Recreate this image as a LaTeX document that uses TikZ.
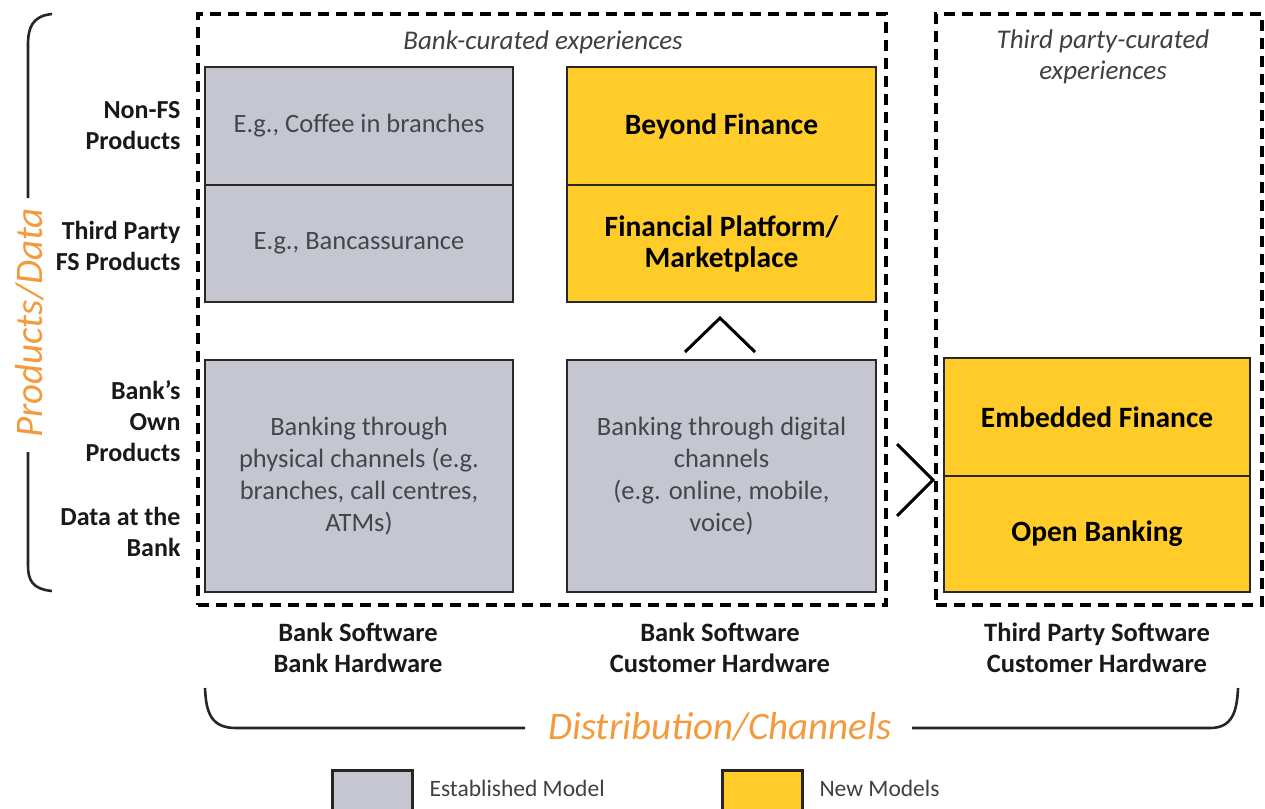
\documentclass[tikz,border=0pt]{standalone}
\usepackage{fontspec}
\setmainfont{Carlito}
\definecolor{grayfill}{RGB}{197,198,208}
\definecolor{yellowfill}{RGB}{255,204,41}
\definecolor{orangetxt}{RGB}{243,155,60}
\definecolor{boxtxt}{RGB}{68,70,76}
\definecolor{edge}{RGB}{40,40,40}
\begin{document}
\begin{tikzpicture}[x=1pt,y=-1pt,
  cell/.style={draw=edge,line width=1.6pt,inner sep=0pt,align=center,text=boxtxt,
    font=\fontsize{26.5}{32}\selectfont},
  graycell/.style={cell,fill=grayfill},
  yellowcell/.style={cell,fill=yellowfill,text=black,font=\bfseries\fontsize{29.5}{31}\selectfont},
  dashbox/.style={draw=black,dashed,dash pattern=on 11pt off 7pt,line width=3.2pt,inner sep=0pt},
  sidelabel/.style={align=right,anchor=east,font=\bfseries\fontsize{26}{31}\selectfont,text=black!90},
  botlabel/.style={align=center,font=\bfseries\fontsize{26.5}{31}\selectfont,text=black!90},
  toplabel/.style={align=center,font=\itshape\fontsize{27}{31}\selectfont,text=black!75},
  bigorange/.style={font=\itshape\fontsize{39}{40}\selectfont,text=orangetxt},
  bracepath/.style={draw=black!85,line width=2.6pt},
  chevron/.style={draw=black,line width=3pt},
  legbox/.style={draw=black!85,line width=3pt,inner sep=0pt,minimum width=80pt,minimum height=42pt},
  legtext/.style={anchor=west,font=\fontsize{23.5}{24}\selectfont,text=black!75}
]
\useasboundingbox (0,0) rectangle (1265,808);

% dashed regions
\node[dashbox,minimum width=688pt,minimum height=591pt] (bankexp) at (542,309.5) {};
\node[dashbox,minimum width=326pt,minimum height=591pt] (tpexp) at (1099,309.5) {};

\node[toplabel] (banklbl) at (543,42) {Bank-curated experiences};
\node[toplabel] (tplbl) at (1103,57) {Third party-curated\\experiences};

% gray cells
\node[graycell,minimum width=308pt,minimum height=118pt] (nonfs) at (359,126) {E.g., Coffee in branches};
\node[graycell,minimum width=308pt,minimum height=117pt] (tpfs) at (359,243.5) {E.g., Bancassurance};
\node[graycell,minimum width=308pt,minimum height=232pt] (phys) at (359,476) {Banking through\\physical channels (e.g.\\branches, call centres,\\ATMs)};
\node[graycell,minimum width=309pt,minimum height=232pt] (dig) at (721.5,476) {Banking through digital\\channels\\(e.g. online, mobile,\\voice)};

% yellow cells
\node[yellowcell,minimum width=309pt,minimum height=118pt] (beyond) at (721.5,126) {Beyond Finance};
\node[yellowcell,minimum width=309pt,minimum height=117pt] (market) at (721.5,243.5) {Financial Platform/\\Marketplace};
\node[yellowcell,minimum width=306pt,minimum height=118pt] (embed) at (1097,417) {Embedded Finance};
\node[yellowcell,minimum width=306pt,minimum height=116pt] (openb) at (1097,534) {Open Banking};

% chevrons
\draw[chevron] (685,352) -- (720,318) -- (755,352);
\draw[chevron] (897,444) -- (933,480) -- (897,516);

% side labels
\node[sidelabel] (l1) at (184,126) {Non-FS\\Products};
\node[sidelabel] (l2) at (184,246) {Third Party\\FS Products};
\node[sidelabel] (l3) at (184,421) {Bank’s\\Own\\Products};
\node[sidelabel] (l4) at (184,532) {Data at the\\Bank};

% bottom labels
\node[botlabel] (b1) at (358,648) {Bank Software\\Bank Hardware};
\node[botlabel] (b2) at (720,648) {Bank Software\\Customer Hardware};
\node[botlabel] (b3) at (1097,648) {Third Party Software\\Customer Hardware};

% left brace
\draw[bracepath] (52,14) .. controls (32,16) and (28,28) .. (28,45) -- (28,198);
\draw[bracepath] (28,452) -- (28,565) .. controls (28,580) and (32,589) .. (52,591);
\node[bigorange,rotate=90] (prod) at (30,323) {Products/Data};

% bottom brace
\draw[bracepath] (205,688) .. controls (206,714) and (212,728) .. (236,728) -- (525,728);
\draw[bracepath] (912,728) -- (1210,728) .. controls (1232,728) and (1237,712) .. (1238,688);
\node[bigorange] (dist) at (720,727) {Distribution/Channels};

% legend
\node[legbox,fill=grayfill] (leg1) at (372,791) {};
\node[legtext] (leg1t) at (426,788) {Established Model};
\node[legbox,fill=yellowfill] (leg2) at (762.5,791) {};
\node[legtext] (leg2t) at (816,788) {New Models};
\end{tikzpicture}
\end{document}
